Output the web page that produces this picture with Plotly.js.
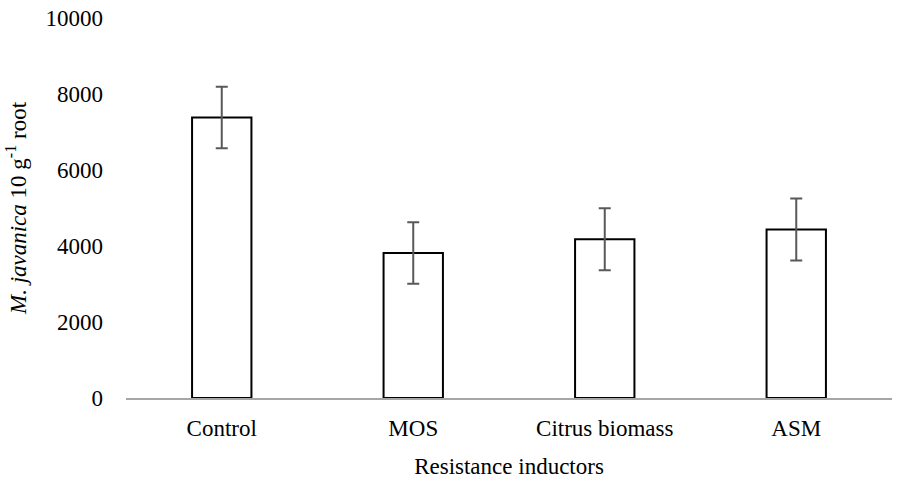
<!DOCTYPE html>
<html>
<head>
<meta charset="utf-8">
<script src="https://cdn.plot.ly/plotly-3.0.1.min.js"></script>
<style>
  html, body { margin: 0; padding: 0; background: #fff; }
  #chart { width: 902px; height: 488px; }
</style>
</head>
<body>
<div id="chart"></div>
<script>
// Nematode counts per treatment
const inductors = ['Control', 'MOS', 'Citrus biomass', 'ASM'];
const nematodes = [7380, 3815, 4180, 4435];
const stdErrors = [810, 810, 815, 815];
const yTicks = [0, 2000, 4000, 6000, 8000, 10000];

const serif = 'Liberation Serif, Times New Roman, serif';

const barTrace = {
    x: inductors,
    y: nematodes,
    type: 'bar',
    marker: {
        color: '#ffffff',
        line: { color: '#000000', width: 2 }
    },
    error_y: {
        type: 'data',
        array: stdErrors,
        visible: true,
        color: '#595959',
        thickness: 2,
        width: 6
    },
    hoverinfo: 'x+y'
};

const layout = {
    width: 902,
    height: 488,
    margin: { l: 126, r: 10, t: 18, b: 90 },
    paper_bgcolor: '#ffffff',
    plot_bgcolor: '#ffffff',
    bargap: 0.69,
    showlegend: false,
    font: { family: serif, size: 23, color: '#000000' },
    xaxis: {
        type: 'category',
        showline: true,
        linecolor: '#a6a6a6',
        linewidth: 2,
        ticks: '',
        showgrid: false,
        zeroline: false,
        tickfont: { family: serif, size: 23, color: '#000000' },
        ticklabelstandoff: 8,
        title: {
            text: 'Resistance inductors',
            font: { family: serif, size: 23, color: '#000000' },
            standoff: 18
        }
    },
    yaxis: {
        range: [0, 10000],
        tickvals: yTicks,
        ticktext: yTicks.map(String),
        showline: false,
        showgrid: false,
        zeroline: false,
        ticks: '',
        ticklabelstandoff: 22,
        tickfont: { family: serif, size: 23, color: '#000000' },
        title: {
            text: '<i>M. javanica</i> 10 g<sup>-1</sup> root',
            font: { family: serif, size: 23, color: '#000000' },
            standoff: 12
        }
    }
};

Plotly.newPlot('chart', [barTrace], layout, { displayModeBar: false, staticPlot: true });
</script>
</body>
</html>
